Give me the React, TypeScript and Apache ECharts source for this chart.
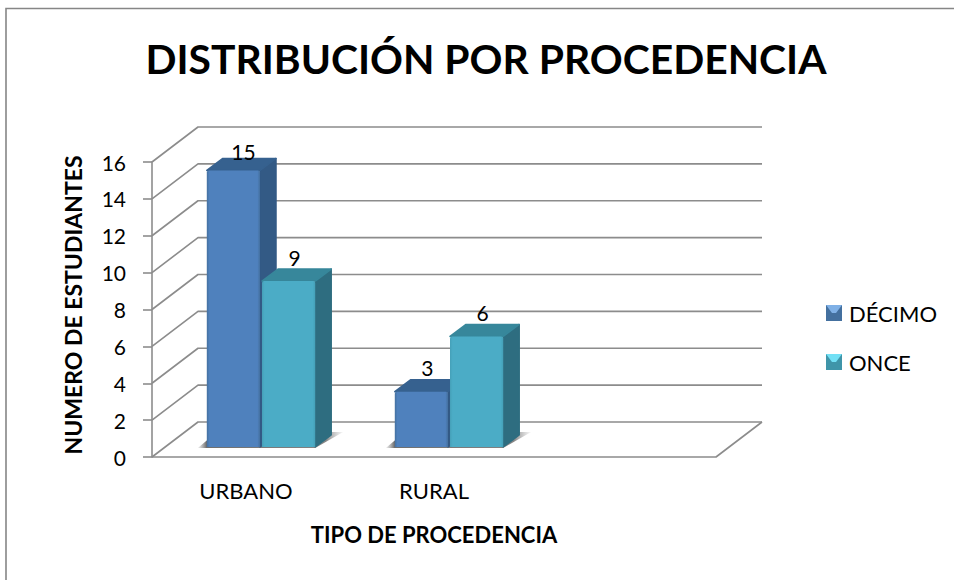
import React, { useEffect, useRef } from "react";
import * as echarts from "echarts";

const categories = ["URBANO", "RURAL", ""];
const yTicks = [0, 2, 4, 6, 8, 10, 12, 14, 16];
const decimoValues = [15, 3];
const onceValues = [9, 6];
const seriesNames = ["DÉCIMO", "ONCE"];
const titleText = "DISTRIBUCIÓN POR PROCEDENCIA";
const xTitle = "TIPO DE PROCEDENCIA";
const yTitle = "NUMERO DE ESTUDIANTES";

const FONT = "Lato, Carlito, Calibri, sans-serif";
const GRID_COLOR = "#8c8c8c";
const WALL_DX = 46;
const WALL_DY = -35;
const BAR_IN_DX = 15;
const BAR_IN_DY = -10;
const BAR_DX = 16;
const BAR_DY = -12;
const BAR_FRAC = 0.283;

const hGrad = (edge: string, mid: string) => ({
  type: "linear", x: 0, y: 0, x2: 1, y2: 0,
  colorStops: [
    { offset: 0, color: edge },
    { offset: 0.05, color: mid },
    { offset: 0.95, color: mid },
    { offset: 1, color: edge },
  ],
});

const palettes = [
  { front: hGrad("#44709f", "#4f81bd"), side: "#335a85", top: "#36618f" },
  { front: hGrad("#45a0b8", "#4bacc6"), side: "#2e6d80", top: "#37879b" },
];

const barItem = (idx: number) => (_p: any, api: any) => {
  const cat = api.value(0);
  const val = api.value(1);
  const [cx, base0] = api.coord([cat, 0]);
  const [, top0] = api.coord([cat, val]);
  const w = api.size([1, 0])[0] * BAR_FRAC;
  const gap = 1;
  const x0 = cx + BAR_IN_DX + (idx === 0 ? -w - gap : gap);
  const x1 = x0 + w;
  const yb = base0 + BAR_IN_DY;
  const yt = top0 + BAR_IN_DY;
  const pal = palettes[idx];
  const labelDy = val === 15 ? -19 : -24;
  const labelDx = val === 15 ? 10 : 6;
  const poly = (points: number[][], fill: any) => ({
    type: "polygon",
    shape: { points },
    style: { fill, stroke: typeof fill === "string" ? fill : "none", lineWidth: 1.5, lineJoin: "round" },
  });
  return {
    type: "group",
    children: [
      poly([[x1, yb], [x1 + BAR_DX, yb + BAR_DY], [x1 + BAR_DX, yt + BAR_DY], [x1, yt]], pal.side),
      poly([[x0, yt], [x0 + BAR_DX, yt + BAR_DY], [x1 + BAR_DX, yt + BAR_DY], [x1, yt]], pal.top),
      { type: "rect", shape: { x: x0, y: yt, width: w, height: yb - yt, r: [2, 2, 0, 0] }, style: { fill: pal.front } },
      {
        type: "text",
        x: (x0 + x1) / 2 + labelDx,
        y: yt + labelDy,
        style: { text: String(val), fill: "#000", font: `21px ${FONT}`, align: "center", verticalAlign: "middle" },
      },
    ],
  };
};

const wallsItem = (_p: any, api: any) => {
  const v = api.value(0);
  const [x0, y] = api.coord([0, v]);
  const size = api.size([1, 0])[0] * categories.length;
  const xl = x0 - api.size([1, 0])[0] / 2;
  const line = (points: number[][]) => ({
    type: "polyline",
    shape: { points },
    style: { fill: "none", stroke: GRID_COLOR, lineWidth: 1.6, lineJoin: "round" },
  });
  const children: any[] = [
    line([[xl, y], [xl + WALL_DX, y + WALL_DY], [xl + size + WALL_DX, y + WALL_DY]]),
  ];
  if (v === 0) {
    children.push(line([[xl + size + WALL_DX, y + WALL_DY], [xl + size, y], [xl, y]]));
  }
  return { type: "group", children };
};

const shadowItem = (_p: any, api: any) => {
  const cat = api.value(0);
  const [cx, base0] = api.coord([cat, 0]);
  const w = api.size([1, 0])[0] * BAR_FRAC;
  const l = cx + BAR_IN_DX - w - 1;
  const r = cx + BAR_IN_DX + w + 1;
  const yb = base0 + BAR_IN_DY;
  return {
    type: "polygon",
    shape: { points: [[l - 9, yb + 1], [r, yb + 1], [r + 28, yb - 15], [l + 10, yb - 15]] },
    style: {
      fill: {
        type: "linear", x: 0, y: 0, x2: 1, y2: 0,
        colorStops: [
          { offset: 0, color: "rgba(120,120,120,0.1)" },
          { offset: 0.06, color: "rgba(85,85,85,0.85)" },
          { offset: 0.88, color: "rgba(110,110,110,0.85)" },
          { offset: 1, color: "rgba(170,170,170,0.1)" },
        ],
      },
    },
  };
};

export default function App() {
  const ref = useRef<HTMLDivElement>(null);
  useEffect(() => {
    document.body.style.margin = "0";
    const chart = echarts.init(ref.current!, undefined, { renderer: "svg" });
    chart.setOption({
      animation: false,
      backgroundColor: "#ffffff",
      textStyle: { fontFamily: FONT },
      title: {
        text: titleText,
        left: 481,
        top: 33,
        textAlign: "center",
        textStyle: { fontFamily: FONT, fontSize: 40.8, fontWeight: "bold", color: "#000" },
      },
      legend: {
        orient: "vertical",
        left: 821,
        top: 297,
        icon: "rect",
        itemWidth: 16,
        itemHeight: 16,
        itemGap: 27,
        itemStyle: { borderWidth: 0 },
        data: seriesNames,
        textStyle: { fontFamily: FONT, fontSize: 22, color: "#000", padding: [0, 0, 0, 2] },
      },
      grid: { left: 152, right: 238, top: 162, bottom: 123, containLabel: false },
      xAxis: {
        type: "category",
        data: categories,
        name: xTitle,
        nameLocation: "middle",
        nameGap: 66,
        nameTextStyle: { fontFamily: FONT, fontSize: 22, fontWeight: "bold", color: "#000" },
        axisLine: { show: false },
        axisTick: { show: false },
        axisLabel: { margin: 22, fontFamily: FONT, fontSize: 22, color: "#000" },
      },
      yAxis: {
        type: "value",
        min: 0,
        max: 16,
        interval: 2,
        name: yTitle,
        nameLocation: "middle",
        nameGap: 68,
        nameTextStyle: { fontFamily: FONT, fontSize: 23, fontWeight: "bold", color: "#000", padding: [0, 0, 0, 9] },
        axisLine: { show: true, lineStyle: { color: GRID_COLOR, width: 1.6 } },
        axisTick: { show: true, length: 9, lineStyle: { color: GRID_COLOR, width: 1.6 } },
        axisLabel: { margin: 26, fontFamily: FONT, fontSize: 21, color: "#000", padding: [2, 0, 0, 0] },
        splitLine: { show: false },
      },
      graphic: [
        {
          type: "polyline",
          shape: { points: [[6, 580], [6, 8.5], [954, 8.5]] },
          style: { fill: "none", stroke: "#868686", lineWidth: 1.6 },
          silent: true,
        },
        { type: "polygon", z: 200, shape: { points: [[826, 305], [842, 305], [836, 313], [832, 313]] }, style: { fill: "#7fb0e6" }, silent: true },
        { type: "polygon", z: 200, shape: { points: [[826, 354], [842, 354], [836, 362], [832, 362]] }, style: { fill: "#72e0f5" }, silent: true },
      ],
      series: [
        {
          type: "custom",
          name: "muros",
          renderItem: wallsItem,
          data: yTicks.map((t) => [t]),
          encode: { y: 0 },
          clip: false,
          silent: true,
          z: 1,
        },
        {
          type: "custom",
          name: "sombras",
          renderItem: shadowItem,
          data: categories.slice(0, 2).map((_, i) => [i]),
          encode: { x: 0 },
          clip: false,
          silent: true,
          z: 2,
        },
        {
          type: "custom",
          name: seriesNames[0],
          renderItem: barItem(0),
          data: decimoValues.map((v, i) => [i, v]),
          encode: { x: 0, y: 1 },
          itemStyle: { color: "#44709f" },
          clip: false,
          z: 3,
        },
        {
          type: "custom",
          name: seriesNames[1],
          renderItem: barItem(1),
          data: onceValues.map((v, i) => [i, v]),
          encode: { x: 0, y: 1 },
          itemStyle: { color: "#3f95a9" },
          clip: false,
          z: 4,
        },
      ],
    });
    return () => chart.dispose();
  }, []);
  return <div ref={ref} style={{ position: "absolute", left: 0, top: 0, width: 954, height: 580 }} />;
}
